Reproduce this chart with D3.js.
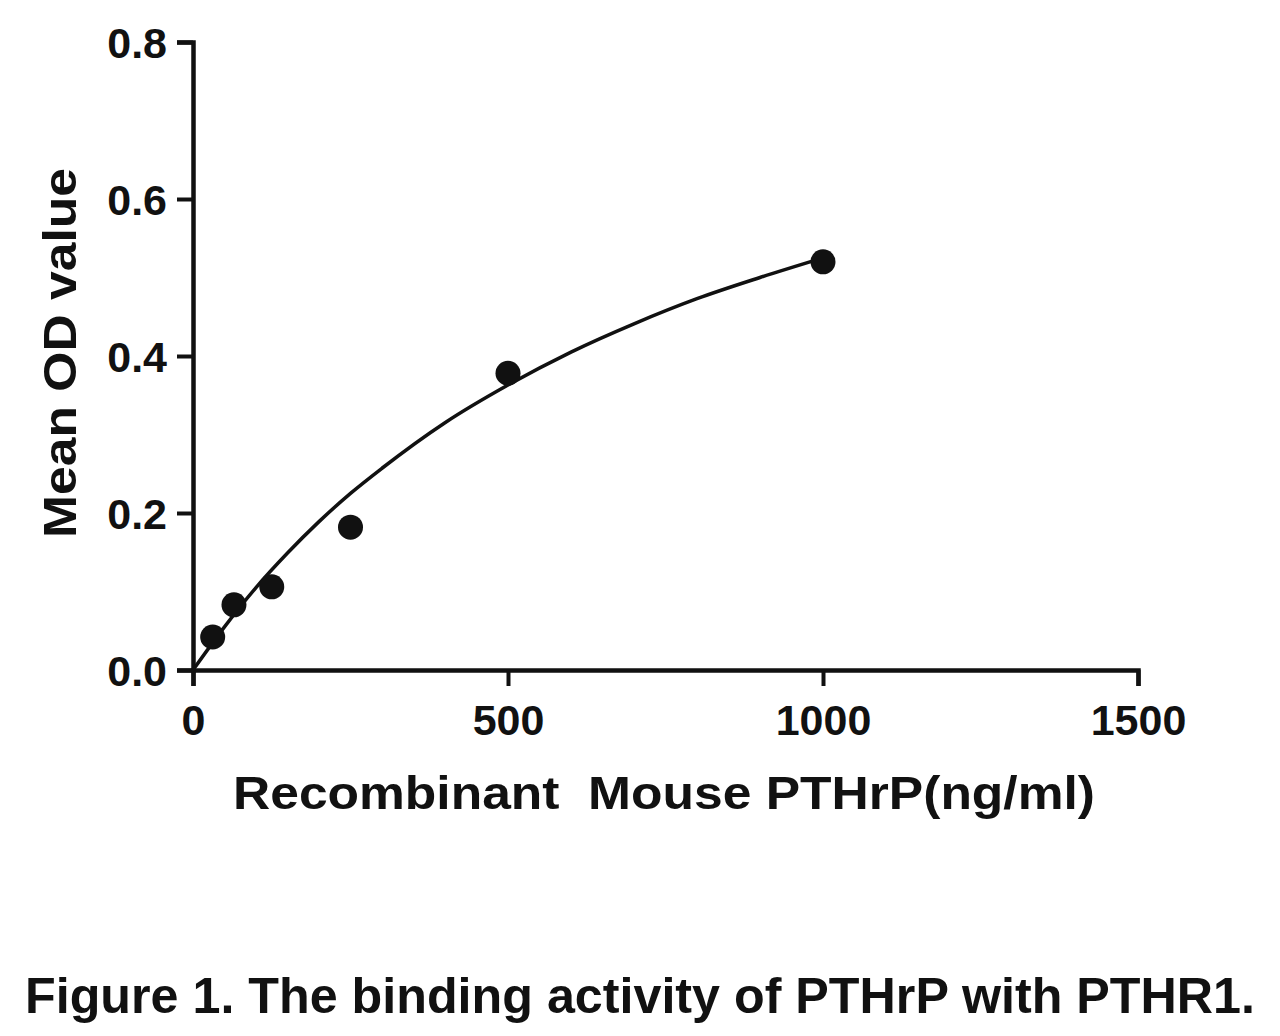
<!DOCTYPE html>
<html><head><meta charset="utf-8">
<script src="https://cdn.jsdelivr.net/npm/d3@7"></script>
<style>
html,body{margin:0;padding:0;background:#fff;}
svg{display:block;}
text{font-family:"Liberation Sans",Arial,sans-serif;font-weight:bold;fill:#111;}
</style></head>
<body>
<svg id="c" width="1280" height="1036"></svg>
<script>
// Measured data points (concentration ng/ml, mean OD)
const concentrations = [31.25, 65, 125, 250, 500, 1000];
const odValues = [0.042, 0.083, 0.106, 0.182, 0.378, 0.52];
// Fitted curve
const curveX = [0, 50, 100, 150, 200, 250, 300, 400, 500, 600, 700, 800, 900, 1000];
const curveY = [0, 0.055, 0.105, 0.149, 0.189, 0.225, 0.257, 0.315, 0.363, 0.405, 0.441, 0.473, 0.500, 0.525];
const xTicks = [0, 500, 1000, 1500];
const yTicks = [0, 0.2, 0.4, 0.6, 0.8];
const xTitle = "Recombinant  Mouse PTHrP(ng/ml)";
const yTitle = "Mean OD value";
const caption = "Figure 1. The binding activity of PTHrP with PTHR1.";

const svg = d3.select("#c");
const x = d3.scaleLinear().domain([0, 1500]).range([193, 1138]);
const y = d3.scaleLinear().domain([0, 0.8]).range([670, 42]);

const gx = svg.append("g").attr("transform", `translate(0,${y(0)})`)
  .call(d3.axisBottom(x).tickValues(xTicks).tickFormat(d3.format("d")).tickSize(16).tickSizeOuter(16).tickPadding(18));
const gy = svg.append("g").attr("transform", `translate(${x(0)},0)`)
  .call(d3.axisLeft(y).tickValues(yTicks).tickFormat(d3.format(".1f")).tickSize(16).tickSizeOuter(16).tickPadding(10));
[gx, gy].forEach(g => {
  g.selectAll("path.domain").attr("stroke", "#111").attr("stroke-width", 4.5);
  g.selectAll(".tick line").attr("stroke", "#111").attr("stroke-width", 4);
  g.selectAll(".tick text").style("font-size", "43px").attr("fill", "#111")
    .style("font-family", '"Liberation Sans",Arial,sans-serif').style("font-weight", "bold");
});
gx.selectAll(".tick text").attr("dy", "0.71em");
gy.selectAll(".tick text").attr("dy", "0.36em");

const line = d3.line().x((d, i) => x(curveX[i])).y(d => y(d)).curve(d3.curveMonotoneX);
svg.append("path").attr("d", line(curveY)).attr("fill", "none").attr("stroke", "#111").attr("stroke-width", 3.5);

svg.append("g").selectAll("circle").data(odValues).join("circle")
  .attr("cx", (d, i) => x(concentrations[i])).attr("cy", d => y(d)).attr("r", 12.5).attr("fill", "#111");

svg.append("text").attr("x", 664).attr("y", 809).attr("text-anchor", "middle")
  .attr("textLength", 862).attr("lengthAdjust", "spacingAndGlyphs")
  .style("font-size", "47px").style("white-space", "pre").text(xTitle);
svg.append("text").attr("transform", "translate(76,353) rotate(-90)").attr("text-anchor", "middle")
  .attr("textLength", 370).attr("lengthAdjust", "spacingAndGlyphs")
  .style("font-size", "47px").text(yTitle);
svg.append("text").attr("x", 640).attr("y", 1013).attr("text-anchor", "middle")
  .attr("textLength", 1230).attr("lengthAdjust", "spacingAndGlyphs")
  .style("font-size", "50px").text(caption);
</script>
</body></html>
